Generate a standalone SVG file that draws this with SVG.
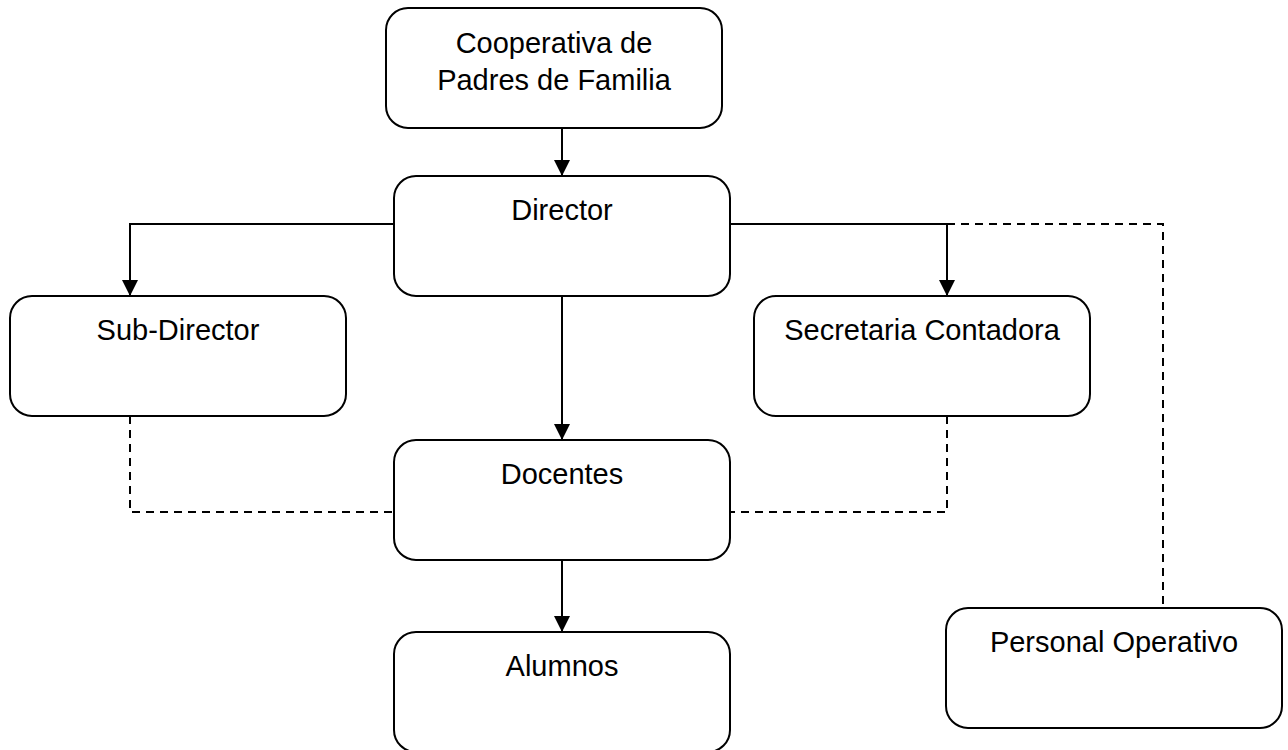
<svg xmlns="http://www.w3.org/2000/svg" width="1288" height="750" viewBox="0 0 1288 750">
<style>
.box{fill:#fff;stroke:#000;stroke-width:2}
.t{font-family:"Liberation Sans",Arial,sans-serif;font-size:29px;fill:#000;text-anchor:middle}
.c{fill:none;stroke:#000;stroke-width:2}
.d{fill:none;stroke:#000;stroke-width:2;stroke-dasharray:8 6}
</style>
<defs>
<marker id="ah" markerUnits="userSpaceOnUse" markerWidth="16" markerHeight="16" refX="16" refY="8" orient="auto">
<path d="M0,0 L16,8 L0,16 Z" fill="#000"/>
</marker>
</defs>
<rect width="1288" height="750" fill="#fff"/>
<g id="connectors">
<path class="c" d="M562,128 V176" marker-end="url(#ah)"/>
<path class="c" d="M394,224 H130 V296" marker-end="url(#ah)"/>
<path class="c" d="M730,224 H947 V296" marker-end="url(#ah)"/>
<path class="c" d="M562,296 V440" marker-end="url(#ah)"/>
<path class="c" d="M562,560 V632" marker-end="url(#ah)"/>
<path class="d" d="M947,224 H1163 V608"/>
<path class="d" d="M130,416 V512 H394"/>
<path class="d" d="M947,416 V512 H730"/>
</g>
<g id="cooperativa">
<rect class="box" x="386" y="8" width="336" height="120" rx="22"/>
<text class="t" x="554" y="53">Cooperativa de</text>
<text class="t" x="554" y="90">Padres de Familia</text>
</g>
<g id="director">
<rect class="box" x="394" y="176" width="336" height="120" rx="22"/>
<text class="t" x="562" y="220">Director</text>
</g>
<g id="subdirector">
<rect class="box" x="10" y="296" width="336" height="120" rx="22"/>
<text class="t" x="178" y="340">Sub-Director</text>
</g>
<g id="secretaria">
<rect class="box" x="754" y="296" width="336" height="120" rx="22"/>
<text class="t" x="922" y="340">Secretaria Contadora</text>
</g>
<g id="docentes">
<rect class="box" x="394" y="440" width="336" height="120" rx="22"/>
<text class="t" x="562" y="484">Docentes</text>
</g>
<g id="alumnos">
<rect class="box" x="394" y="632" width="336" height="120" rx="22"/>
<text class="t" x="562" y="676">Alumnos</text>
</g>
<g id="personal">
<rect class="box" x="946" y="608" width="336" height="120" rx="22"/>
<text class="t" x="1114" y="652">Personal Operativo</text>
</g>
</svg>
